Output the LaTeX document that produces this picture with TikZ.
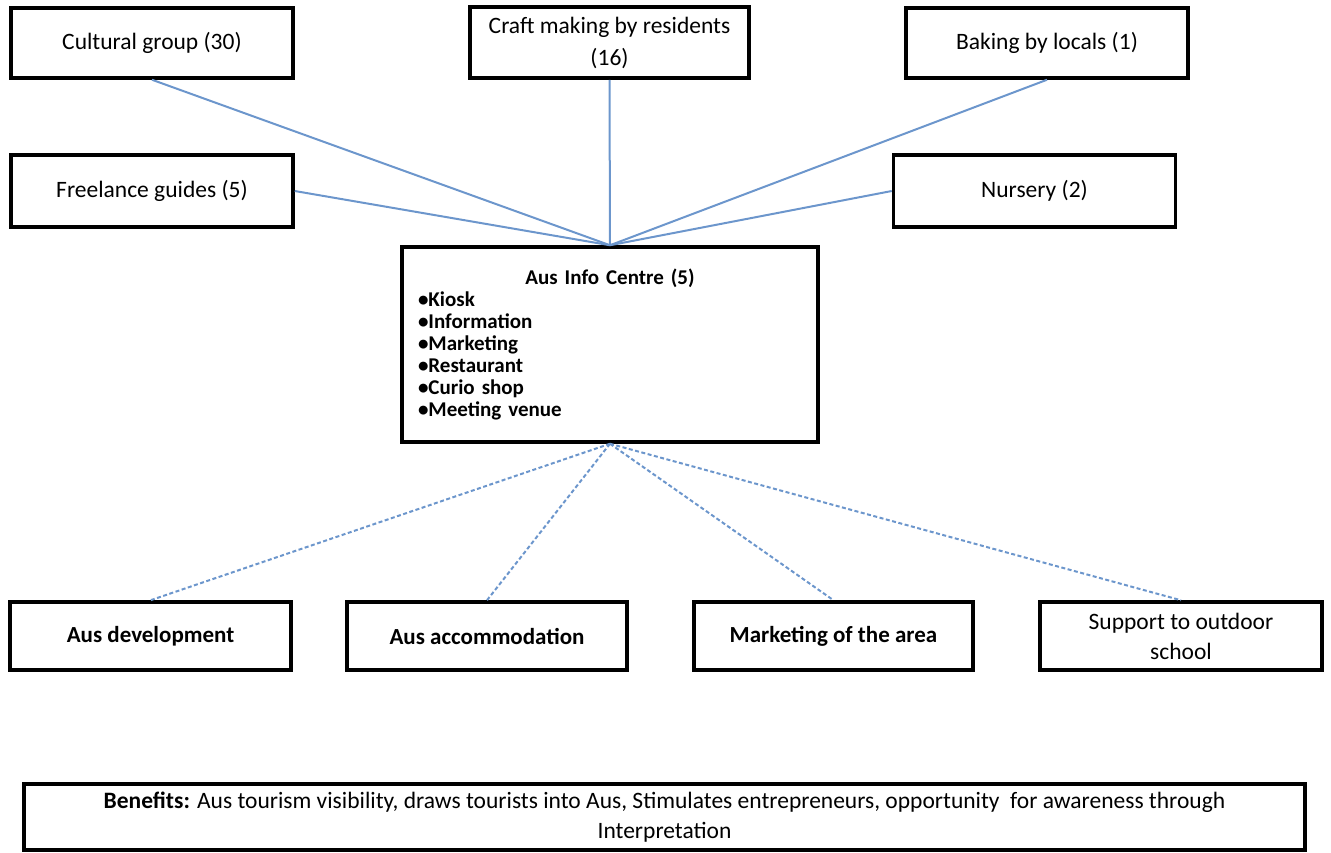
\documentclass[tikz,border=0pt]{standalone}
\usepackage{fontspec}
\setmainfont{Carlito}
\usepackage{xcolor}
\definecolor{linkblue}{RGB}{108,150,204}
\usetikzlibrary{positioning}

\begin{document}
\begin{tikzpicture}[x=1pt, y=-1pt,
  box/.style={draw=black, line width=3.5pt, fill=white, align=center,
              font=\fontsize{23.5}{32}\selectfont, inner sep=2pt},
  topbox/.style={box, minimum width=282pt, minimum height=70pt},
  lowbox/.style={box, font=\bfseries\fontsize{23}{30}\selectfont,
                 minimum width=281pt, minimum height=68pt},
  link/.style={draw=linkblue, line width=2pt},
  dotlink/.style={link, dash pattern=on 4pt off 2.5pt}]
  \useasboundingbox (0,0) rectangle (1331,852);

  % Top row
  \node[topbox] (cultural) at (152,43) {Cultural group (30)};
  \node[topbox, minimum width=279pt, minimum height=71pt] (craft) at (609.5,42.5)
       {Craft making by residents\\(16)};
  \node[topbox] (baking) at (1047,43) {Baking by locals (1)};

  % Second row
  \node[topbox, minimum height=72pt] (guides) at (152,191) {Freelance guides (5)};
  \node[topbox, minimum height=72pt] (nursery) at (1034.5,191) {Nursery (2)};

  % Centre box
  \node[box, minimum width=416pt, minimum height=195pt, text width=384pt,
        align=left, font=\bfseries\fontsize{21}{22}\selectfont] (centre) at (610,344.5)
       {\centering Aus Info Centre (5)\par
        \raggedright
        \textbullet Kiosk\\
        \textbullet Information\\
        \textbullet Marketing\\
        \textbullet Restaurant\\
        \textbullet Curio shop\\
        \textbullet Meeting venue};

  % Bottom row
  \node[lowbox] (develop) at (150.5,636) {Aus development};
  \node[lowbox, minimum width=280pt] (accom) at (487,636) {Aus accommodation};
  \node[lowbox, minimum width=279pt] (market) at (833.5,636) {Marketing of the area};
  \node[lowbox, minimum width=282pt, font=\fontsize{23.5}{30}\selectfont] (school) at (1181,636)
       {Support to outdoor\\school};

  % Benefits bar
  \node[box, minimum width=1281pt, minimum height=66pt,
        font=\fontsize{23.5}{30}\selectfont] (benefits) at (664.5,817)
       {\textbf{Benefits:} Aus tourism visibility, draws tourists into Aus, Stimulates entrepreneurs, opportunity\ \ for awareness through\\Interpretation};

  % Links into the centre
  \draw[link] (cultural.south) -- (centre.north);
  \draw[link] (craft.south) -- (centre.north);
  \draw[link] (baking.south) -- (centre.north);
  \draw[link] (guides.east) -- (centre.north);
  \draw[link] (nursery.west) -- (centre.north);

  % Links out of the centre
  \draw[dotlink] (centre.south) -- (develop.north);
  \draw[dotlink] (centre.south) -- (accom.north);
  \draw[dotlink] (centre.south) -- (market.north);
  \draw[dotlink] (centre.south) -- (school.north);
\end{tikzpicture}
\end{document}
